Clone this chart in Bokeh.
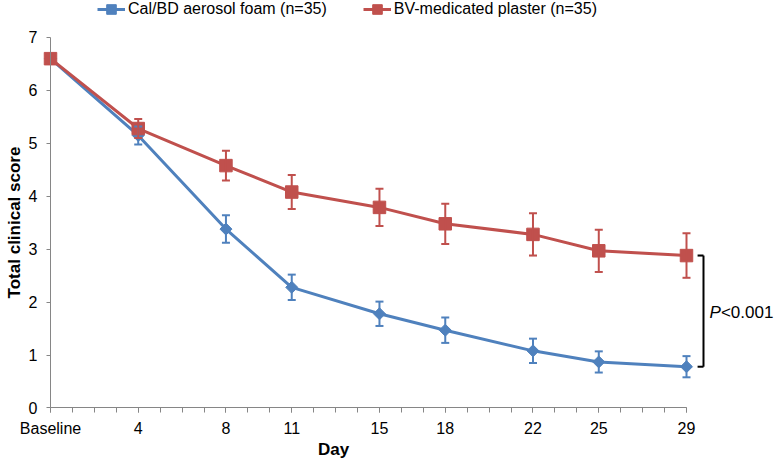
from bokeh.plotting import figure
from bokeh.models import (Range1d, LinearAxis, FixedTicker, Whisker, ColumnDataSource,
                          Legend, LegendItem, TeeHead)
from bokeh.core.properties import value
from bokeh.embed import file_html
from bokeh.resources import INLINE

# ---- data ----
days = [0, 4, 8, 11, 15, 18, 22, 25, 29]
tick_labels = ["Baseline", "4", "8", "11", "15", "18", "22", "25", "29"]
calbd_mean = [6.6, 5.15, 3.38, 2.28, 1.78, 1.47, 1.08, 0.87, 0.78]
calbd_err = [0.0, 0.17, 0.26, 0.24, 0.23, 0.24, 0.23, 0.2, 0.2]
bv_mean = [6.6, 5.28, 4.58, 4.08, 3.79, 3.48, 3.28, 2.97, 2.88]
bv_err = [0.0, 0.18, 0.28, 0.32, 0.35, 0.38, 0.4, 0.4, 0.42]
series_names = ["Cal/BD aerosol foam (n=35)", "BV-medicated plaster (n=35)"]
y_ticks = [0, 1, 2, 3, 4, 5, 6, 7]
p_text_italic = "P"
p_text_rest = "<0.001"

BLUE = "#4F81BD"
RED = "#C0504D"
AXIS = "#868686"
FONT = "Liberation Sans"

W, H = 774, 462

p = figure(width=W, height=H, output_backend="svg", toolbar_location=None,
           x_range=Range1d(-2.2799, 33.0126), y_range=Range1d(-1.0297, 7.699),
           x_axis_location=None, y_axis_location=None,
           min_border=0, min_border_left=0, min_border_right=0,
           min_border_top=0, min_border_bottom=0)
p.outline_line_color = None
p.grid.visible = False
p.background_fill_color = "white"

# ---- axes ----
xaxis = LinearAxis(fixed_location=0, bounds=(0, 29),
                   ticker=FixedTicker(ticks=days, minor_ticks=list(range(0, 30))))
xaxis.major_label_overrides = {d: lab for d, lab in zip(days, tick_labels)}
xaxis.axis_line_color = AXIS
xaxis.major_tick_line_color = AXIS
xaxis.minor_tick_line_color = AXIS
xaxis.major_tick_in = 0
xaxis.major_tick_out = 5
xaxis.minor_tick_in = 0
xaxis.minor_tick_out = 5
xaxis.major_label_text_font = FONT
xaxis.major_label_text_font_size = "16px"
xaxis.major_label_text_color = "black"
xaxis.major_label_standoff = 7
p.add_layout(xaxis, "below")

# axis that only carries the title, centred under the plot area like the original
xtitle = LinearAxis(fixed_location=0, bounds=(0, 25.8), axis_label="Day",
                    ticker=FixedTicker(ticks=[]))
xtitle.axis_line_color = None
xtitle.major_tick_line_color = None
xtitle.minor_tick_line_color = None
xtitle.major_label_text_font_size = "0px"
xtitle.axis_label_text_font = FONT
xtitle.axis_label_text_font_size = "17px"
xtitle.axis_label_text_font_style = "bold"
xtitle.axis_label_text_color = "black"
xtitle.axis_label_standoff = 32
p.add_layout(xtitle, "below")

yaxis = LinearAxis(fixed_location=0, bounds=(0, 7), axis_label="Total clinical score",
                   ticker=FixedTicker(ticks=y_ticks, minor_ticks=[]))
yaxis.axis_line_color = AXIS
yaxis.major_tick_line_color = AXIS
yaxis.major_tick_in = 0
yaxis.major_tick_out = 4
yaxis.major_label_text_font = FONT
yaxis.major_label_text_font_size = "16px"
yaxis.major_label_text_color = "black"
yaxis.major_label_standoff = 9
yaxis.axis_label_text_font = FONT
yaxis.axis_label_text_font_size = "17px"
yaxis.axis_label_text_font_style = "bold"
yaxis.axis_label_text_color = "black"
yaxis.axis_label_standoff = 2
p.add_layout(yaxis, "left")

# ---- error bars ----
def add_err(mean, err, color):
    src = ColumnDataSource(dict(
        x=days[1:],
        upper=[m + e for m, e in zip(mean[1:], err[1:])],
        lower=[m - e for m, e in zip(mean[1:], err[1:])],
    ))
    w = Whisker(source=src, base="x", upper="upper", lower="lower",
                line_color=color, line_width=2,
                upper_head=TeeHead(size=8, line_color=color, line_width=2),
                lower_head=TeeHead(size=8, line_color=color, line_width=2),
                level="glyph")
    p.add_layout(w)

add_err(calbd_mean, calbd_err, BLUE)
add_err(bv_mean, bv_err, RED)

# ---- series ----
lb = p.line(days, calbd_mean, line_color=BLUE, line_width=3)
sb = p.scatter(days, calbd_mean, marker="square", angle=0.785398, size=8.5,
               fill_color=BLUE, line_color=BLUE)
lr = p.line(days, bv_mean, line_color=RED, line_width=3)
sr = p.scatter(days, bv_mean, marker="square", size=12.5,
               fill_color=RED, line_color=RED)

legend = Legend(items=[LegendItem(label=series_names[0], renderers=[lb, sb]),
                       LegendItem(label=series_names[1], renderers=[lr, sr])],
                orientation="horizontal", location=(97, 441),
                glyph_width=28, glyph_height=24, label_height=24,
                label_standoff=3, spacing=36, padding=0, margin=0,
                border_line_color=None, background_fill_alpha=0,
                label_text_font=FONT, label_text_font_size="16px",
                label_text_color="black")
p.add_layout(legend)

# ---- significance bracket ----
bx = 29.775
btop = bv_mean[-1]
bbot = calbd_mean[-1]
p.segment(x0=[bx, bx - 0.27, bx - 0.27], y0=[btop, btop, bbot],
          x1=[bx, bx, bx], y1=[bbot, btop, bbot],
          line_color="black", line_width=2)
ymid = 1.80
p.text(x=[bx + 0.27], y=[ymid], text=[p_text_italic], text_font=value(FONT),
       text_font_size="17px", text_font_style="italic", text_baseline="middle",
       text_align="left", text_color="black")
p.text(x=[bx + 0.27], y=[ymid], text=[p_text_rest], text_font=value(FONT),
       text_font_size="17px", text_baseline="middle", x_offset=11.5,
       text_align="left", text_color="black")

open("out.html", "w").write(file_html(p, INLINE))
